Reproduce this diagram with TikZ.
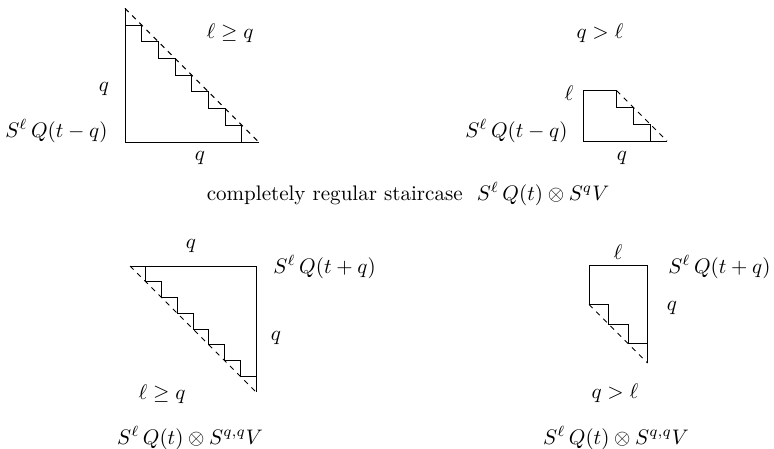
\documentclass[tikz,border=0pt]{standalone}
\begin{document}
\begin{tikzpicture}[x=0.475pt,y=-0.475pt,line width=0.45pt,
  diag/.style={dash pattern=on 2.4pt off 2.4pt},
  lbl/.style={inner sep=0pt}]
\useasboundingbox (0,0) rectangle (774,449);
% ---------- top left ----------
\begin{scope}[shift={(125,142)},x=7.932pt,y=7.932pt]
  \coordinate (a1) at (0,8); \coordinate (a2) at (0,0); \coordinate (a3) at (8,0);
  \draw (a1) -- (a2) -- (a3);
  \draw[diag] (a1) -- (a3);
  \draw (0,7) -- (1,7) -- (1,6) -- (2,6) -- (2,5) -- (3,5) -- (3,4) -- (4,4)
        -- (4,3) -- (5,3) -- (5,2) -- (6,2) -- (6,1) -- (7,1) -- (7,0);
\end{scope}
\node[lbl] (t1) at (230,33) {$\ell\geq q$};
\node[lbl] (t2) at (104,89) {$q$};
\node[lbl,anchor=east] (t3) at (108,131) {$S^{\ell}\,Q(t-q)$};
\node[lbl] (t4) at (200,158) {$q$};
% ---------- top right ----------
\begin{scope}[shift={(583,141)},x=7.98pt,y=7.98pt]
  \coordinate (b1) at (2,3); \coordinate (b2) at (0,3); \coordinate (b3) at (0,0); \coordinate (b4) at (5,0);
  \draw (b1) -- (b2) -- (b3) -- (b4);
  \draw[diag] (b1) -- (b4);
  \draw (2,3) -- (2,2) -- (3,2) -- (3,1) -- (4,1) -- (4,0);
\end{scope}
\node[lbl] (u1) at (600,33) {$q>\ell$};
\node[lbl] (u2) at (569,93) {$\ell$};
\node[lbl,anchor=east] (u3) at (568,131) {$S^{\ell}\,Q(t-q)$};
\node[lbl] (u4) at (622,158) {$q$};
% ---------- caption middle ----------
\node[lbl] (c1) at (408,194) {completely regular staircase\ \ $S^{\ell}\,Q(t)\otimes S^{q}V$};
% ---------- bottom left ----------
\begin{scope}[shift={(130,392)},x=7.481pt,y=7.481pt]
  \coordinate (d1) at (0,8); \coordinate (d2) at (8,8); \coordinate (d3) at (8,0);
  \draw (d1) -- (d2) -- (d3);
  \draw[diag] (d1) -- (d3);
  \draw (1,8) -- (1,7) -- (2,7) -- (2,6) -- (3,6) -- (3,5) -- (4,5) -- (4,4)
        -- (5,4) -- (5,3) -- (6,3) -- (6,2) -- (7,2) -- (7,1) -- (8,1);
\end{scope}
\node[lbl] (v1) at (191,246) {$q$};
\node[lbl,anchor=west] (v2) at (273,267) {$S^{\ell}\,Q(t+q)$};
\node[lbl] (v3) at (276,338) {$q$};
\node[lbl] (v4) at (162,394) {$\ell\geq q$};
\node[lbl] (v5) at (190,438) {$S^{\ell}\,Q(t)\otimes S^{q,q}V$};
% ---------- bottom right ----------
\begin{scope}[shift={(589,363)},x=9.263pt,y=9.263pt]
  \coordinate (e1) at (0,3); \coordinate (e2) at (0,5); \coordinate (e3) at (3,5); \coordinate (e4) at (3,0);
  \draw (e1) -- (e2) -- (e3) -- (e4);
  \draw[diag] (e1) -- (e4);
  \draw (0,3) -- (1,3) -- (1,2) -- (2,2) -- (2,1) -- (3,1);
\end{scope}
\node[lbl] (w1) at (618,252) {$\ell$};
\node[lbl,anchor=east] (w2) at (771,267) {$S^{\ell}\,Q(t+q)$};
\node[lbl] (w3) at (672,308) {$q$};
\node[lbl] (w4) at (615,393) {$q>\ell$};
\node[lbl] (w5) at (616,438) {$S^{\ell}\,Q(t)\otimes S^{q,q}V$};
\end{tikzpicture}
\end{document}
